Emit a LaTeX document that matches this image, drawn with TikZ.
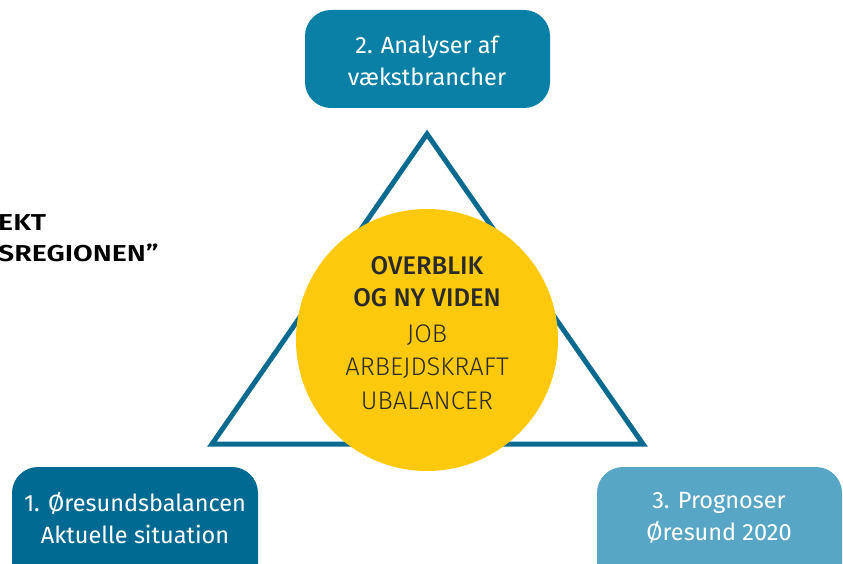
\documentclass[tikz,border=0pt]{standalone}
\usepackage{fontspec}
\setmainfont{Fira Sans}
\newfontfamily\lightfont{Fira Sans Light}
\newfontfamily\medfont{Fira Sans Medium}
\newfontfamily\wideboldfont[FakeStretch=1.24]{Fira Sans SemiBold}
\definecolor{tri}{HTML}{0A6A8F}
\definecolor{boxA}{HTML}{006A92}
\definecolor{boxB}{HTML}{0A80A6}
\definecolor{boxC}{HTML}{58A6C6}
\definecolor{sun}{HTML}{FDC90C}
\definecolor{ink}{HTML}{2A2A2A}
\begin{document}
\begin{tikzpicture}[x=1pt,y=-1pt,
  stepbox/.style={rounded corners=26pt,inner sep=0pt,text=white,font=\fontsize{23.5}{32}\selectfont,align=center},
]
\useasboundingbox (0,0) rectangle (843,564);
\fill[white] (0,0) rectangle (843,564);
% triangle
\coordinate (ta) at (427,134);
\coordinate (tl) at (212,444);
\coordinate (tr) at (643,444);
\draw[tri,line width=5pt,line join=miter] (ta) -- (tl) -- (tr) -- cycle;
% circle
\node[circle,fill=sun,minimum size=262pt,inner sep=0pt] (c) at (427,340) {};
\node[font=\medfont\fontsize{25.5}{32}\selectfont,text=ink,align=center] (c1) at (427,282) {OVERBLIK\\OG NY VIDEN};
\node[font=\lightfont\fontsize{25.5}{33.5}\selectfont,text=ink,align=center] (c2) at (427,367) {JOB\\ARBEJDSKRAFT\\UBALANCER};
% boxes
\fill[boxB,rounded corners=26pt] (305,10) rectangle (550,108);
\node[stepbox] (b2) at (427,61) {2. Analyser af\\vækstbrancher};
\fill[boxA,rounded corners=26pt] (12,467) rectangle (258,590);
\node[stepbox] (b1) at (135,518) {1. Øresundsbalancen\\Aktuelle situation};
\fill[boxC,rounded corners=26pt] (597,467) rectangle (842,590);
\node[stepbox] (b3) at (719,518) {3. Prognoser\\Øresund 2020};
% left text
\node[anchor=west,font=\wideboldfont\fontsize{23}{31}\selectfont,align=left,inner sep=0pt] (lt) at (-2,238) {EKT\\SREGIONEN”};
\end{tikzpicture}
\end{document}
